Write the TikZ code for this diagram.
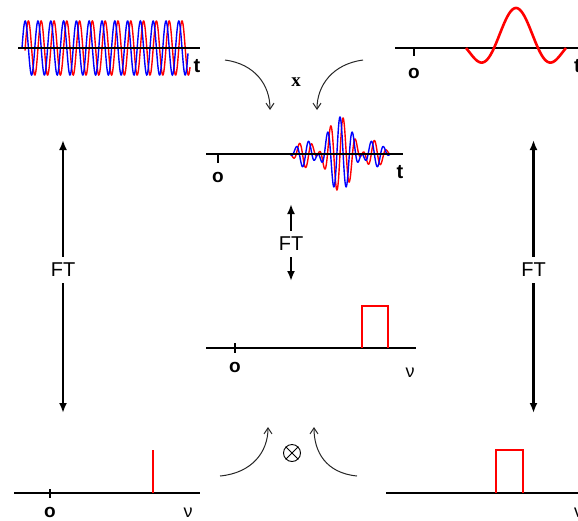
\documentclass[tikz,border=0pt]{standalone}
\usepackage{fontspec}
\setmainfont{Liberation Sans}
\newfontfamily\seriffont{Liberation Serif}
\usetikzlibrary{arrows.meta}
\begin{document}
\begin{tikzpicture}[x=1pt,y=-1pt,
  axis/.style={line width=2.6pt},
  thinaxis/.style={line width=2pt},
  tickmark/.style={line width=2pt},
  bluew/.style={draw={rgb,255:red,0;green,0;blue,255},line width=1.4pt},
  redw/.style={draw={rgb,255:red,255;green,0;blue,0},line width=1.4pt},
  sig/.style={draw={rgb,255:red,255;green,0;blue,0},line width=2.2pt},
  ftarrow/.style={line width=2.5pt,-{Latex[length=10pt,width=8pt]}},
  curv/.style={line width=1pt,draw=black!85,-{Straight Barb[length=6pt,width=8pt]}},
  ftlabel/.style={font=\fontsize{20}{24}\selectfont,inner sep=6pt},
  olabel/.style={font=\fontsize{19}{22}\selectfont\bfseries,anchor=base,inner sep=0pt},
  tlabel/.style={font=\fontsize{20}{24}\selectfont\bfseries,anchor=base,inner sep=0pt},
  nulabel/.style={font=\fontsize{18}{22}\selectfont,anchor=base,inner sep=0pt},
]
\useasboundingbox (0,0) rectangle (578,520);

% ---- top left: carriers
\draw[redw] plot[domain=25:190,samples=500] (\x,{48-27*sin(28.125*(\x-25.2))});
\draw[bluew] plot[domain=22:188,samples=500] (\x,{48-27*sin(28.125*(\x-22))});
\draw[axis] (18,48) -- (200,48);
\node[tlabel] (t1) at (197,72) {t};

% ---- top right: envelope
\draw[axis] (395,48) -- (578,48);
\draw[tickmark] (414,48) -- (414,56);
\node[olabel] (o2) at (414,78) {o};
\draw[sig,line width=2.6pt] plot[domain=-50:50,samples=120] ({516+\x},{48-40*cos(4.0909*\x)*cos(1.8*\x)});
\node[tlabel,anchor=base west] (t2) at (574,72) {t};

% ---- middle top: product
\draw[redw] plot[domain=-50:50,samples=500] ({340+\x},{154-37*cos(4.0909*\x)*cos(1.8*\x)*sin(28.8*\x)});
\draw[bluew] plot[domain=-50:50,samples=500] ({340+\x},{154-37*cos(4.0909*\x)*cos(1.8*\x)*cos(28.8*\x)});
\draw[axis] (206,154) -- (403,154);
\draw[tickmark] (218,154) -- (218,163);
\node[olabel] (o3) at (218,182) {o};
\node[tlabel] (t3) at (400,178) {t};

% ---- middle bottom: spectrum of product
\draw[thinaxis] (206,348) -- (416,348);
\draw[tickmark] (235,343) -- (235,353);
\node[olabel] (o4) at (235,372) {o};
\node[nulabel] (nu4) at (410,377) {ν};
\draw[sig] (362,348) -- (362,306) -- (388,306) -- (388,348);

% ---- bottom left: spike
\draw[thinaxis] (14,493) -- (200,493);
\draw[tickmark] (50,489) -- (50,498);
\node[olabel] (o5) at (50,517) {o};
\node[nulabel] (nu5) at (188,517) {ν};
\draw[sig,line width=2.5pt] (153,450) -- (153,493);

% ---- bottom right: box
\draw[thinaxis] (386,493) -- (578,493);
\draw[sig] (496,493) -- (496,450) -- (523,450) -- (523,493);
\node[nulabel,anchor=base west] (nu6) at (574,517) {ν};

% ---- FT arrows
\node[ftlabel] (FTl) at (63,270) {FT};
\coordinate (FTlT) at (63,140);
\coordinate (FTlB) at (63,413);
\draw[ftarrow] (FTl) -- (FTlT);
\draw[ftarrow] (FTl) -- (FTlB);

\node[ftlabel] (FTr) at (533.5,270) {FT};
\coordinate (FTrT) at (533.5,140);
\coordinate (FTrB) at (533.5,413);
\draw[ftarrow] (FTr) -- (FTrT);
\draw[ftarrow] (FTr) -- (FTrB);

\node[ftlabel] (FTm) at (291,244) {FT};
\coordinate (FTmT) at (291,204);
\coordinate (FTmB) at (291,281);
\draw[ftarrow] (FTm) -- (FTmT);
\draw[ftarrow] (FTm) -- (FTmB);

% ---- curved arrows, top
\coordinate (cl1) at (225,60);
\coordinate (cl2) at (270,110);
\draw[curv] (cl1) .. controls (255,64) and (270,85) .. (cl2);
\coordinate (cr1) at (363,60);
\coordinate (cr2) at (317,110);
\draw[curv] (cr1) .. controls (333,64) and (317,85) .. (cr2);
\node[font=\seriffont\bfseries\fontsize{19}{22}\selectfont,inner sep=0pt] (xl) at (296,82) {x};

% ---- curved arrows, bottom
\coordinate (bl1) at (220,476);
\coordinate (bl2) at (268,427);
\draw[curv] (bl1) .. controls (252,473) and (268,452) .. (bl2);
\coordinate (br1) at (357,476);
\coordinate (br2) at (314,427);
\draw[curv] (br1) .. controls (326,473) and (314,452) .. (br2);
\node[circle,draw,line width=0.9pt,minimum size=17pt,inner sep=0pt] (ot) at (292,453) {};
\draw[line width=0.9pt] (ot.45) -- (ot.225) (ot.135) -- (ot.-45);
\end{tikzpicture}
\end{document}
